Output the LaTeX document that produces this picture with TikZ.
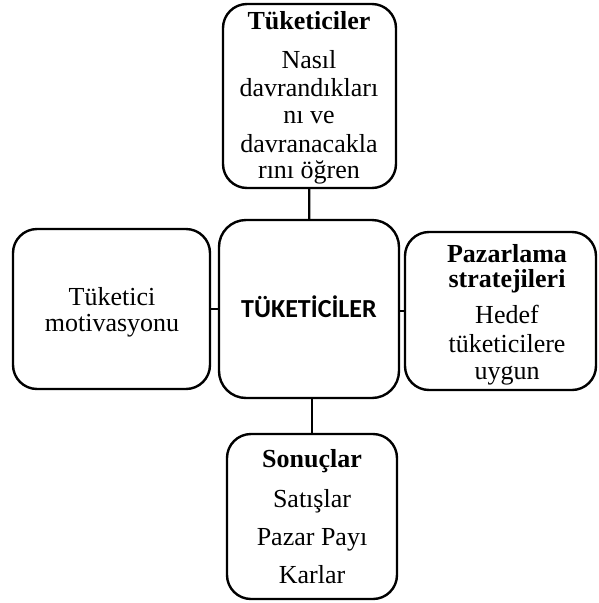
\documentclass[tikz,border=0pt]{standalone}
\usepackage{fontspec}
\setmainfont{Liberation Serif}
\newfontfamily\carlito{Carlito}
\begin{document}
\begin{tikzpicture}[x=1pt,y=-1pt,
  box/.style={draw=black, line width=2.4pt, rounded corners=24pt, fill=white, inner sep=0pt},
  txt/.style={anchor=base, inner sep=0pt, font=\fontsize{26}{28}\selectfont},
  ttl/.style={anchor=base, inner sep=0pt, font=\fontsize{26}{28}\selectfont\bfseries},
  link/.style={draw=black, line width=2.4pt}]
\useasboundingbox (0,0) rectangle (598,603);

% boxes
\node (top)    [box, minimum width=173pt, minimum height=184pt] at (309.5,96) {};
\node (center) [box, rounded corners=27pt, minimum width=180pt, minimum height=178pt] at (309,309) {};
\node (left)   [box, minimum width=197pt, minimum height=160pt] at (111.5,309) {};
\node (right)  [box, minimum width=191pt, minimum height=158pt] at (500.5,311) {};
\node (bottom) [box, minimum width=170pt, minimum height=165pt] at (312,516.5) {};

% connectors
\draw[link] (top) -- (center);
\draw[link] (left) -- (center);
\draw[link] (center.east |- right.west) -- (right.west);
\draw[link] (center.south -| bottom.north) -- (bottom.north);

% centre label
\node (cT) [anchor=base, inner sep=0pt, font=\carlito\fontsize{26}{28}\selectfont\bfseries] at (309,317) {TÜKETİCİLER};

% top box
\node (t0) [ttl] at (309,29) {Tüketiciler};
\node (t1) [txt] at (309,68) {Nasıl};
\node (t2) [txt] at (309,96) {davrandıkları};
\node (t3) [txt] at (309,123) {nı ve};
\node (t4) [txt] at (309,152) {davranacakla};
\node (t5) [txt] at (309,178) {rını öğren};

% left box
\node (l1) [txt] at (112,305) {Tüketici};
\node (l2) [txt] at (112,331) {motivasyonu};

% right box
\node (r0) [ttl] at (507,262) {Pazarlama};
\node (r1) [ttl] at (507,287) {stratejileri};
\node (r2) [txt] at (507,323) {Hedef};
\node (r3) [txt] at (507,352) {tüketicilere};
\node (r4) [txt] at (507,379) {uygun};

% bottom box
\node (b0) [ttl] at (312,467) {Sonuçlar};
\node (b1) [txt] at (312,507) {Satışlar};
\node (b2) [txt] at (312,545) {Pazar Payı};
\node (b3) [txt] at (312,583) {Karlar};
\end{tikzpicture}
\end{document}
